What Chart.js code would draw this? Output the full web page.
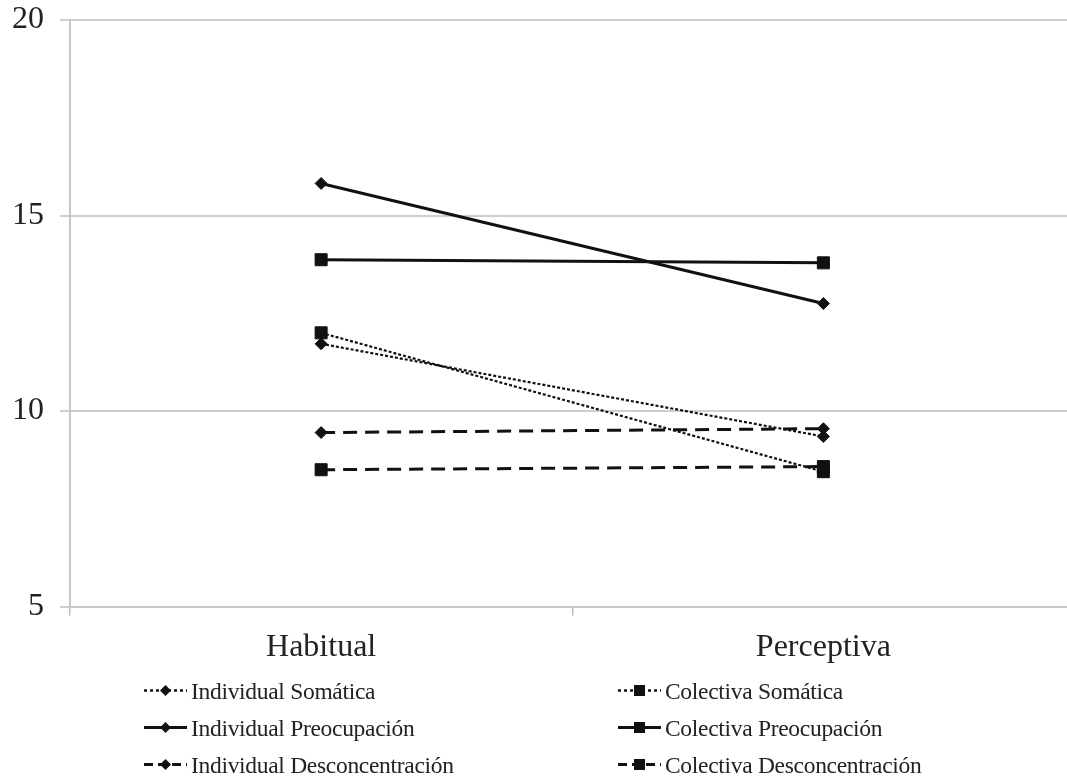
<!DOCTYPE html>
<html>
<head>
<meta charset="utf-8">
<script src="https://cdn.jsdelivr.net/npm/chart.js@4/dist/chart.umd.min.js"></script>
<style>
  html, body { margin: 0; padding: 0; background: #fff; overflow: hidden; width: 1067px; height: 780px; }
  #c { position: absolute; left: 0; top: 0; }
  #legend { position: absolute; left: 0; top: 0; width: 1067px; height: 780px; pointer-events: none; }
  .item { position: absolute; height: 30px; display: flex; align-items: center;
          font-family: "Liberation Serif", "Times New Roman", serif; font-size: 23.5px; color: #222; letter-spacing: -0.3px; white-space: nowrap; }
  .item svg { margin-right: 3px; }
</style>
</head>
<body>
<canvas id="c" width="1084" height="680" style="width:1084px;height:680px"></canvas>
<div id="legend"></div>
<script>
// ---- data ----
const categories = ["Habitual", "Perceptiva"];
const seriesNames = [
  "Individual Somática", "Colectiva Somática",
  "Individual Preocupación", "Colectiva Preocupación",
  "Individual Desconcentración", "Colectiva Desconcentración"
];
const individualSomatica = [11.72, 9.35];
const colectivaSomatica = [12.0, 8.45];
const individualPreocupacion = [15.82, 12.75];
const colectivaPreocupacion = [13.87, 13.79];
const individualDesconcentracion = [9.45, 9.55];
const colectivaDesconcentracion = [8.5, 8.58];
const yTicks = [5, 10, 15, 20];

// ---- styles ----
const DOT = [3, 2], DASH = [14, 8], SOLID = [];
const seriesValues = [individualSomatica, colectivaSomatica, individualPreocupacion,
  colectivaPreocupacion, individualDesconcentracion, colectivaDesconcentracion];
const seriesDash = [DOT, DOT, SOLID, SOLID, DASH, DASH];
const seriesWidth = [2.2, 2.2, 3, 3, 3, 3];
const seriesMarker = ["rectRot", "rect", "rectRot", "rect", "rectRot", "rect"];

const datasets = seriesNames.map((name, i) => ({
  label: name,
  data: seriesValues[i],
  borderColor: "#111",
  backgroundColor: "#111",
  borderWidth: seriesWidth[i],
  borderDash: seriesDash[i],
  pointStyle: seriesMarker[i],
  pointRadius: seriesMarker[i] === "rect" ? 8.5 : 6,
  pointBorderWidth: 1,
  pointBackgroundColor: "#111",
  pointBorderColor: "#111",
  tension: 0,
  fill: false
}));

const FONT = "'Liberation Serif', 'Times New Roman', serif";
new Chart(document.getElementById("c"), {
  type: "line",
  data: { labels: categories, datasets },
  options: {
    responsive: false,
    animation: false,
    layout: { padding: { top: 1, left: -4, right: 0, bottom: 0 } },
    plugins: { legend: { display: false }, tooltip: { enabled: false } },
    scales: {
      x: {
        offset: true,
        grid: { display: true, drawOnChartArea: false, drawTicks: true, tickLength: 9, color: "#bdbdbd", lineWidth: 1.5, offset: true },
        border: { display: true, color: "#c8c8c8", width: 2 },
        ticks: { color: "#222", font: { family: FONT, size: 32 }, padding: 13 }
      },
      y: {
        min: 5, max: 20,
        afterBuildTicks: (s) => { s.ticks = yTicks.map(v => ({ value: v })); },
        grid: { color: "#cfcfcf", lineWidth: 2, tickLength: 10, drawTicks: true },
        border: { display: true, color: "#c8c8c8", width: 2 },
        ticks: { color: "#222", font: { family: FONT, size: 32, lineHeight: 0.25 }, padding: 16 }
      }
    }
  }
});

// ---- legend (HTML text, order: 2 columns x 3 rows) ----
const legend = document.getElementById("legend");
const colX = [143, 617];
const rowY = [691, 728, 765];
seriesNames.forEach((name, i) => {
  const col = i % 2, row = Math.floor(i / 2);
  const div = document.createElement("div");
  div.className = "item";
  div.style.left = colX[col] + "px";
  div.style.top = (rowY[row] - 15) + "px";
  const dash = seriesDash[i].length ? `stroke-dasharray="${seriesDash[i][0] === 3 ? '3 3' : '9 5'}"` : "";
  const marker = seriesMarker[i] === "rect"
    ? `<rect x="17" y="9" width="11" height="11" fill="#111"/>`
    : `<polygon points="22.5,9 28,14.5 22.5,20 17,14.5" fill="#111"/>`;
  const lineW = seriesDash[i] === DOT ? 2.5 : 3;
  div.innerHTML = `<svg width="45" height="30"><line x1="1" y1="14.5" x2="44" y2="14.5" stroke="#111" stroke-width="${lineW}" ${dash}/>${marker}</svg><span>${name}</span>`;
  legend.appendChild(div);
});
</script>
</body>
</html>
